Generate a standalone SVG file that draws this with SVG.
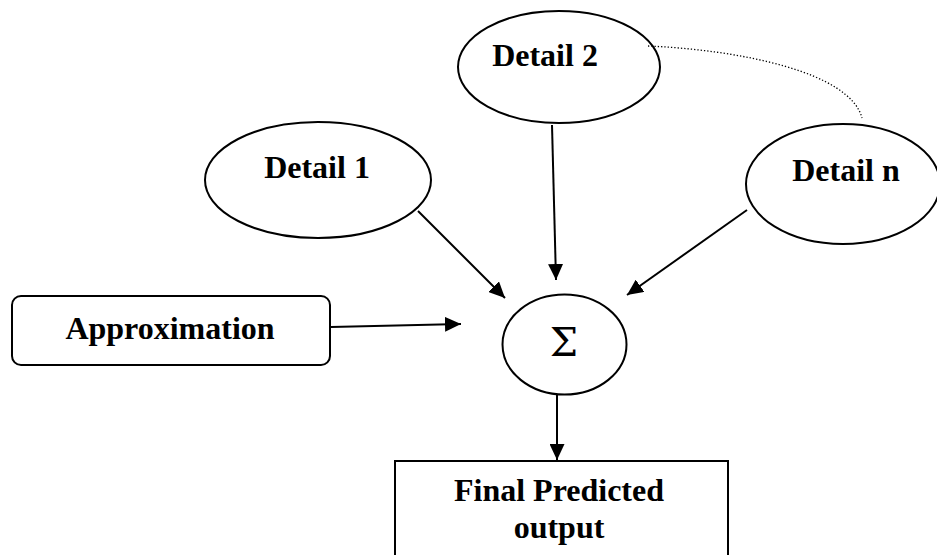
<svg xmlns="http://www.w3.org/2000/svg" width="937" height="555" viewBox="0 0 937 555">
<style>
.shape{fill:#fff;stroke:#000;stroke-width:2}
.lbl{font-family:"Liberation Serif","Times New Roman",serif;font-weight:bold;font-size:32px;fill:#000;text-anchor:middle}
.sig{font-family:"DejaVu Serif","Liberation Serif",serif;font-size:40px;fill:#000;text-anchor:middle}
.conn{stroke:#000;stroke-width:2;fill:none}
.dot{stroke:#000;stroke-width:1.3;fill:none;stroke-dasharray:1.3 2}
</style>
<defs>
<marker id="ah" markerUnits="userSpaceOnUse" markerWidth="16" markerHeight="15" refX="16" refY="7.5" orient="auto" viewBox="0 0 16 15">
<path d="M0,0 L16,7.5 L0,15 z" fill="#000"/>
</marker>
</defs>
<g id="detail2"><ellipse class="shape" cx="559" cy="67" rx="101" ry="56"/><text class="lbl" x="545" y="66">Detail 2</text></g>
<g id="detail1"><ellipse class="shape" cx="318" cy="180" rx="113" ry="58"/><text class="lbl" x="317" y="178">Detail 1</text></g>
<g id="detailn"><ellipse class="shape" cx="843" cy="184" rx="97" ry="60"/><text class="lbl" x="846" y="181">Detail n</text></g>
<g id="approximation"><rect class="shape" x="12" y="296" width="318" height="69" rx="9"/><text class="lbl" x="170" y="339">Approximation</text></g>
<g id="sum"><ellipse class="shape" cx="564.5" cy="344.5" rx="62" ry="50"/><text class="sig" x="564" y="356" font-weight="normal">Σ</text></g>
<g id="final"><path class="conn" d="M395,555 L395,461 L728,461 L728,555"/><text class="lbl" x="559" y="501">Final Predicted</text><text class="lbl" x="559" y="538">output</text></g>
<g id="connectors">
<line class="conn" x1="331" y1="327" x2="461" y2="324" marker-end="url(#ah)"/>
<line class="conn" x1="418" y1="211" x2="505" y2="298" marker-end="url(#ah)"/>
<line class="conn" x1="552" y1="125" x2="556" y2="280" marker-end="url(#ah)"/>
<line class="conn" x1="747" y1="210" x2="627" y2="295" marker-end="url(#ah)"/>
<line class="conn" x1="557" y1="395" x2="557" y2="460" marker-end="url(#ah)"/>
<path class="dot" d="M648,46 C740,50 850,72 862,118"/>
</g>
</svg>
